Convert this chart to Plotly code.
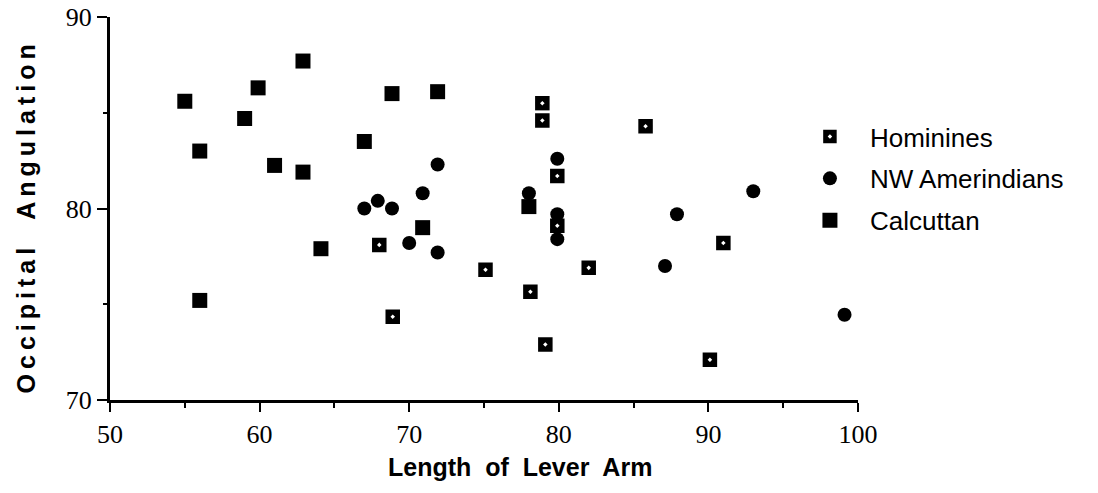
import plotly.graph_objects as go

# Hominines
hom_x = [68.0, 68.9, 75.1, 78.9, 78.9, 85.8, 79.9, 79.9, 91.0, 82.0, 78.1, 79.1, 90.1]
hom_y = [78.1, 74.35, 76.8, 85.5, 84.6, 84.3, 81.7, 79.1, 78.2, 76.9, 75.65, 72.9, 72.1]

# NW Amerindians
nwa_x = [71.9, 70.9, 67.9, 67.0, 68.85, 70.0, 71.9, 79.9, 79.9, 79.9, 93.0, 87.9, 87.1, 99.1, 78.0]
nwa_y = [82.3, 80.8, 80.4, 80.0, 80.0, 78.2, 77.7, 82.6, 78.4, 79.7, 80.9, 79.7, 77.0, 74.45, 80.8]

# Calcuttan
cal_x = [55.0, 62.9, 59.9, 59.0, 56.0, 68.85, 71.9, 67.0, 61.0, 62.9, 64.1, 56.0, 70.9, 78.0]
cal_y = [85.6, 87.7, 86.3, 84.7, 83.0, 86.0, 86.1, 83.5, 82.25, 81.9, 77.9, 75.2, 79.0, 80.1]

x_ticks = [50, 60, 70, 80, 90, 100]
y_ticks = [70, 80, 90]

x_title = "Length  of  Lever  Arm"
y_title = "Occipital  Angulation"

fig = go.Figure()

fig.add_trace(go.Scatter(
    x=hom_x, y=hom_y, mode="markers", name="Hominines", legendgroup="a",
    marker=dict(symbol="square-dot", size=17, color="black",
                line=dict(color="white", width=2.5)),
))
fig.add_trace(go.Scatter(
    x=nwa_x, y=nwa_y, mode="markers", name="NW Amerindians", legendgroup="b",
    marker=dict(symbol="circle", size=14, color="black", line=dict(width=0)),
))
fig.add_trace(go.Scatter(
    x=cal_x, y=cal_y, mode="markers", name="Calcuttan", legendgroup="c",
    marker=dict(symbol="square", size=15, color="black", line=dict(width=0)),
))

tick_font = dict(family="Liberation Serif, Times New Roman, serif", size=26, color="black")
title_font = dict(family="Liberation Sans, Arial, sans-serif", size=25, color="black")

fig.update_layout(
    width=1098, height=493,
    margin=dict(l=110, r=240, t=17, b=93),
    paper_bgcolor="white", plot_bgcolor="white",
    showlegend=True,
    legend=dict(
        x=0.909, y=0.749, xanchor="left", yanchor="top", itemwidth=70,
        font=dict(family="Liberation Sans, Arial, sans-serif", size=26, color="black"),
        tracegroupgap=5, bgcolor="rgba(0,0,0,0)",
    ),
    xaxis=dict(
        range=[50, 100], tickvals=x_ticks, ticks="outside", ticklen=9, tickwidth=2,
        tickcolor="black", showline=True, linewidth=3, linecolor="black",
        showgrid=False, zeroline=False, tickfont=tick_font, automargin=False,
        minor=dict(dtick=5, tick0=50, ticks="outside", ticklen=5, tickwidth=2,
                   tickcolor="black", showgrid=False),
    ),
    yaxis=dict(
        range=[70, 90], tickvals=y_ticks, ticks="outside", ticklen=10, tickwidth=2,
        tickcolor="black", showline=True, linewidth=3, linecolor="black",
        showgrid=False, zeroline=False, tickfont=tick_font, automargin=False,
        minor=dict(dtick=5, tick0=70, ticks="outside", ticklen=4, tickwidth=2,
                   tickcolor="black", showgrid=False),
    ),
    annotations=[
        dict(text="<b>" + x_title + "</b>", xref="paper", yref="paper",
             x=0.548, y=-0.175, xanchor="center", yanchor="middle",
             showarrow=False, font=title_font),
        dict(text="<span style='letter-spacing:5px'><b>" + y_title + "</b></span>",
             xref="paper", yref="paper", x=-0.112, y=0.48,
             xanchor="center", yanchor="middle", textangle=-90,
             showarrow=False, font=title_font),
    ],
)

fig.write_html("out.html")
